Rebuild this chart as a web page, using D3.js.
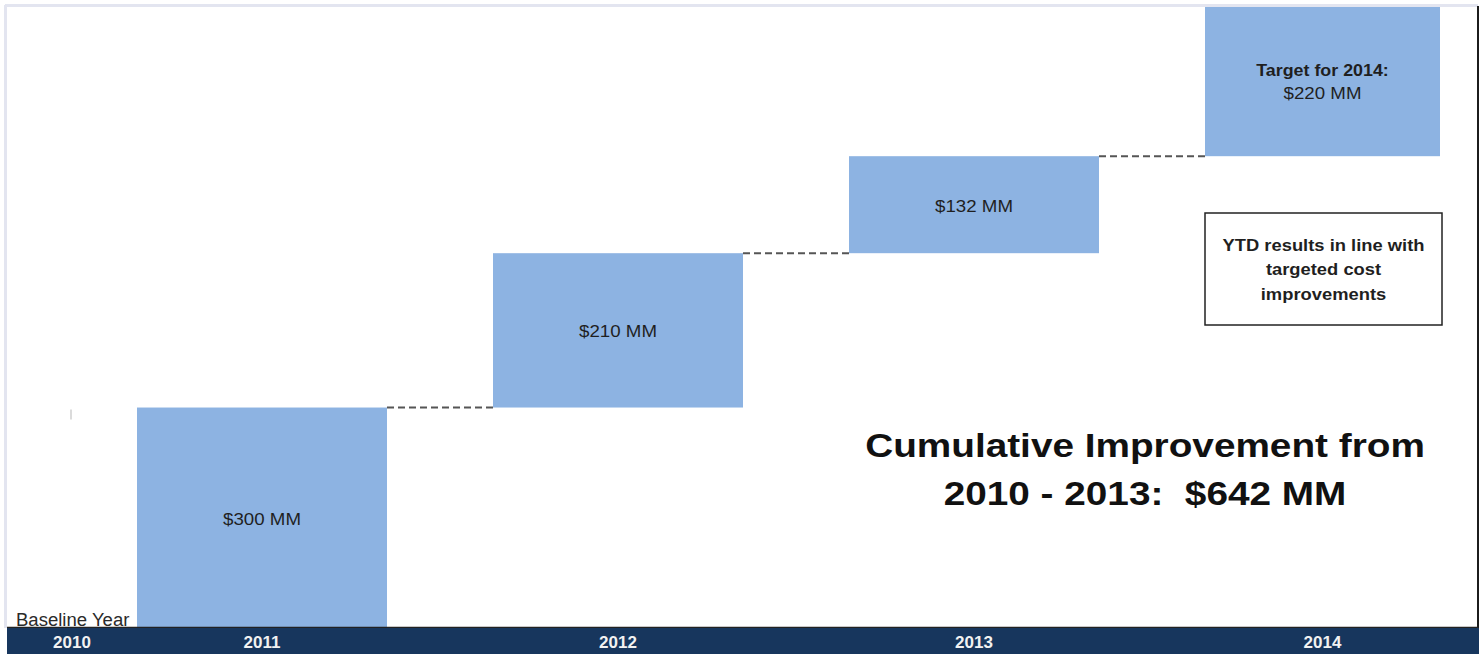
<!DOCTYPE html>
<html>
<head>
<meta charset="utf-8">
<script src="https://cdn.jsdelivr.net/npm/d3@7"></script>
<style>
  html, body { margin: 0; padding: 0; background: #fff; }
  svg { display: block; font-family: "Liberation Sans", Arial, sans-serif; }
</style>
</head>
<body>
<svg id="chart" width="1484" height="654"></svg>
<script>
// Yearly cost improvements ($MM) stacked as a waterfall from the 2010 baseline
const baselineYear = "2010";
const years = ["2011", "2012", "2013", "2014"];
const improvements = [300, 210, 132, 220];
const targetYear = "2014";
const headline = ["Cumulative Improvement from", "2010 - 2013:  $"];
const noteLines = ["YTD results in line with", "targeted cost", "improvements"];

const W = 1484, H = 654;
const plot = { left: 7, right: 1440, top: 7, bottom: 628 };
const frameRight = 1478;

const svg = d3.select("#chart");

// cumulative start/end for each step
let run = 0;
const steps = years.map((yr, i) => {
  const start = run;
  run += improvements[i];
  return { year: yr, value: improvements[i], start, end: run };
});
const actualTotal = d3.sum(steps.filter(s => s.year !== targetYear), s => s.value);

const x = d3.scaleBand()
  .domain(years)
  .range([84, 84 + 4 * 356])
  .paddingInner(106 / 356)
  .paddingOuter(53 / 356);

const y = d3.scaleLinear().domain([0, 845]).range([plot.bottom, plot.top]);

// visible horizontal centre of a bar once clipped to the plot area
const visCenter = yr => {
  const x0 = Math.max(x(yr), plot.left);
  const x1 = Math.min(x(yr) + x.bandwidth(), plot.right);
  return (x0 + x1) / 2;
};

// text drawn with a slightly wide aspect
function wideText(parent, cx, cy, str, size, opts = {}) {
  const g = parent.append("g")
    .attr("transform", `translate(${cx},${cy}) scale(${opts.sx || 1.1},1)`);
  const t = g.append("text")
    .attr("x", 0).attr("y", 0)
    .attr("dy", opts.dy == null ? "0.35em" : opts.dy)
    .attr("text-anchor", opts.anchor || "middle")
    .attr("font-size", size)
    .attr("font-weight", opts.bold ? "bold" : "normal")
    .attr("fill", opts.fill || "#1f1f1f")
    .style("white-space", "pre")
    .text(str);
  return t;
}

// outer frame
svg.append("line").attr("x1", 5).attr("x2", frameRight).attr("y1", 5.5).attr("y2", 5.5)
  .attr("stroke", "#e3e5f0").attr("stroke-width", 3);
svg.append("line").attr("x1", 5.5).attr("x2", 5.5).attr("y1", 5).attr("y2", plot.bottom)
  .attr("stroke", "#e3e5f0").attr("stroke-width", 3);
svg.append("line").attr("x1", frameRight).attr("x2", frameRight).attr("y1", 6).attr("y2", plot.bottom)
  .attr("stroke", "#1c1c1c").attr("stroke-width", 2);

svg.append("defs").append("clipPath").attr("id", "plotClip")
  .append("rect")
  .attr("x", plot.left).attr("y", plot.top)
  .attr("width", plot.right - plot.left).attr("height", plot.bottom - plot.top);

const bars = svg.append("g").attr("clip-path", "url(#plotClip)");
bars.selectAll("rect.bar").data(steps).join("rect")
  .attr("class", "bar")
  .attr("x", d => x(d.year))
  .attr("width", x.bandwidth())
  .attr("y", d => y(d.end))
  .attr("height", d => y(d.start) - y(d.end))
  .attr("fill", "#8db3e2");

// dashed connectors between consecutive steps
svg.append("g").selectAll("line").data(steps.slice(0, -1)).join("line")
  .attr("x1", d => x(d.year) + x.bandwidth())
  .attr("x2", (d, i) => x(steps[i + 1].year))
  .attr("y1", d => y(d.end))
  .attr("y2", d => y(d.end))
  .attr("stroke", "#555")
  .attr("stroke-width", 2)
  .attr("stroke-dasharray", "7,4");

// faint marker at the baseline column
svg.append("line").attr("x1", 71).attr("x2", 71)
  .attr("y1", y(steps[0].end) + 2).attr("y2", y(steps[0].end) + 12)
  .attr("stroke", "#cfcfcf").attr("stroke-width", 1.5);

// value labels inside bars
const labelY = d => (Math.max(y(d.end), plot.top) + y(d.start)) / 2;
const labels = svg.append("g");
steps.filter(s => s.year !== targetYear).forEach(d => {
  wideText(labels, visCenter(d.year), labelY(d) + 1, `$${d.value} MM`, 17, { sx: 1.1 });
});

// target label
const tgt = steps.find(s => s.year === targetYear);
wideText(labels, visCenter(tgt.year), 70, `Target for ${tgt.year}:`, 17, { bold: true, sx: 1.05 });
wideText(labels, visCenter(tgt.year), 93, `$${tgt.value} MM`, 17, { sx: 1.1 });

// note box
const box = { x: 1205, y: 213, w: 237, h: 112 };
svg.append("rect").attr("x", box.x).attr("y", box.y).attr("width", box.w).attr("height", box.h)
  .attr("fill", "#fff").attr("stroke", "#222").attr("stroke-width", 1.5);
noteLines.forEach((line, i) => {
  wideText(svg, box.x + box.w / 2, 245 + i * 24.5, line, 17, { bold: true, sx: 1.08 });
});

// headline
[headline[0], `${headline[1]}${actualTotal} MM`].forEach((line, i) => {
  wideText(svg, 1145, 457 + i * 48, line, 34, { bold: true, sx: 1.14, dy: 0, fill: "#111" });
});

// category strip
svg.append("line").attr("x1", plot.left).attr("x2", frameRight + 1)
  .attr("y1", plot.bottom - 0.5).attr("y2", plot.bottom - 0.5)
  .attr("stroke", "#222").attr("stroke-width", 1.5);
svg.append("rect").attr("x", plot.left).attr("y", plot.bottom)
  .attr("width", frameRight + 1 - plot.left).attr("height", H - plot.bottom)
  .attr("fill", "#17365d");

const axisItems = [{ label: baselineYear, cx: (plot.left + x(years[0])) / 2 }]
  .concat(years.map(yr => ({ label: yr, cx: visCenter(yr) })));
axisItems.forEach(d => {
  wideText(svg, d.cx, 642, d.label, 17, { bold: true, sx: 1.0, fill: "#f2f2f2" });
});

wideText(svg, 16, 626, "Baseline Year", 18, { anchor: "start", sx: 1.03, dy: 0, fill: "#2a2a2a" });
</script>
</body>
</html>
